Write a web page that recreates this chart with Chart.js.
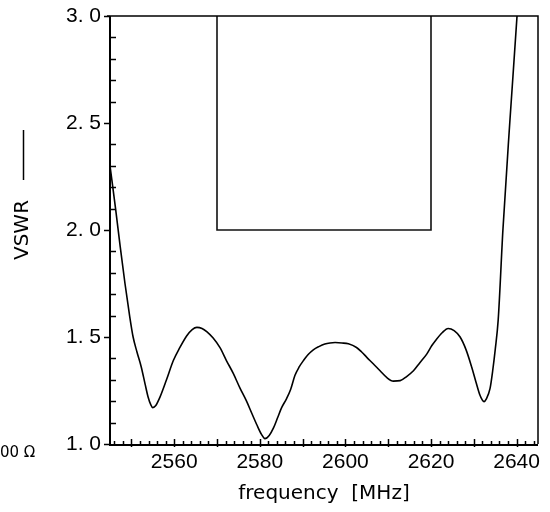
<!DOCTYPE html>
<html>
<head>
<meta charset="utf-8">
<script src="https://cdn.jsdelivr.net/npm/chart.js@4"></script>
<style>
    body { margin: 0; background: #fff; }
    #wrap { width: 550px; height: 512px; }
</style>
</head>
<body>
<div id="wrap"><canvas id="vswrChart"></canvas></div>
<script>
const freq = [
    2545.0, 2546.3, 2547.4, 2548.5, 2549.5, 2550.4, 2551.3, 2552.3, 2553.2, 2553.9,
    2554.5, 2555.0, 2555.7, 2556.7, 2558.2, 2559.8, 2561.3, 2562.9, 2564.2, 2565.3,
    2566.5, 2567.6, 2569.1, 2570.7, 2572.2, 2573.8, 2575.4, 2576.9, 2578.2, 2579.3,
    2580.4, 2581.2, 2582.2, 2583.2, 2584.2, 2585.1, 2586.2, 2587.2, 2588.2, 2589.2,
    2590.2, 2591.3, 2592.5, 2593.8, 2595.2, 2596.4, 2597.6, 2599.2, 2600.7, 2602.6,
    2603.8, 2605.0, 2606.5, 2608.1, 2609.7, 2611.2, 2612.8, 2614.3, 2615.9, 2617.4,
    2619.0, 2620.2, 2621.3, 2622.6, 2624.0, 2625.4, 2626.8, 2628.2, 2629.5, 2630.5,
    2631.4, 2632.0, 2632.4, 2632.9, 2633.8, 2634.4, 2635.0, 2635.7, 2636.8, 2638.4,
    2640.1, 2641.0
];
const vswr = [
    2.30, 2.10, 1.92, 1.75, 1.61, 1.50, 1.43, 1.36, 1.28, 1.22,
    1.185, 1.17, 1.18, 1.22, 1.30, 1.39, 1.45, 1.505, 1.535, 1.545,
    1.54, 1.525, 1.495, 1.45, 1.39, 1.33, 1.26, 1.20, 1.14, 1.09,
    1.045, 1.025, 1.04, 1.075, 1.125, 1.17, 1.21, 1.255, 1.32, 1.36,
    1.39, 1.418, 1.44, 1.455, 1.467, 1.472, 1.474, 1.472, 1.468, 1.451,
    1.43, 1.405, 1.375, 1.342, 1.31, 1.294, 1.296, 1.315, 1.342, 1.38,
    1.42, 1.46, 1.49, 1.52, 1.54, 1.53, 1.50, 1.44, 1.36, 1.29,
    1.23, 1.205, 1.198, 1.21, 1.26, 1.34, 1.44, 1.58, 2.0, 2.5,
    3.0, 3.3
];

// specification mask
const maskFreq = [2570, 2570, 2620, 2620];
const maskVswr = [3.0, 2.0, 2.0, 3.0];

const xRange = [2545, 2645];
const yRange = [1.0, 3.0];
const xTickValues = [2560, 2580, 2600, 2620, 2640];
const yTickValues = [1.0, 1.5, 2.0, 2.5, 3.0];
const yTickLabels = ['1. 0', '1. 5', '2. 0', '2. 5', '3. 0'];

const frame = {
    id: 'frame',
    afterDraw(chart) {
        const { ctx, chartArea: a, scales: { x, y } } = chart;
        ctx.save();
        ctx.strokeStyle = '#000';

        // box
        ctx.lineWidth = 1.5;
        ctx.beginPath();
        ctx.moveTo(a.left - 3, a.top);
        ctx.lineTo(a.right, a.top);
        ctx.lineTo(a.right, a.bottom);
        ctx.stroke();
        ctx.lineWidth = 2;
        ctx.beginPath();
        ctx.moveTo(a.left, a.top);
        ctx.lineTo(a.left, a.bottom + 1);
        ctx.lineTo(a.right, a.bottom + 1);
        ctx.stroke();

        // y ticks
        ctx.lineWidth = 1.5;
        for (let i = 0; i <= 20; i++) {
            const v = yRange[0] + i * 0.1;
            const py = Math.round(y.getPixelForValue(v)) + 0.5;
            ctx.beginPath();
            if (i % 5 === 0) {
                ctx.moveTo(a.left - 6, py);
                ctx.lineTo(a.left, py);
            } else {
                ctx.moveTo(a.left, py);
                ctx.lineTo(a.left + 6, py);
            }
            ctx.stroke();
        }

        // x ticks
        for (let f = 2546; f <= 2644; f += 2) {
            const px = Math.round(x.getPixelForValue(f)) + 0.5;
            ctx.beginPath();
            if (f % 10 === 0) {
                ctx.moveTo(px, a.bottom - 5);
                ctx.lineTo(px, a.bottom + 3);
            } else {
                ctx.moveTo(px, a.bottom - 3);
                ctx.lineTo(px, a.bottom + 1);
            }
            ctx.stroke();
        }

        // tick labels
        ctx.fillStyle = '#000';
        ctx.font = '21px "Liberation Sans"';
        ctx.textBaseline = 'middle';
        ctx.textAlign = 'right';
        yTickValues.forEach((v, i) => {
            ctx.fillText(yTickLabels[i], a.left - 9, y.getPixelForValue(v));
        });
        ctx.textAlign = 'center';
        xTickValues.forEach(f => {
            ctx.fillText(String(f), x.getPixelForValue(f), a.bottom + 18);
        });

        // axis titles
        ctx.font = '20px "DejaVu Sans"';
        ctx.fillText('frequency  [MHz]', (a.left + a.right) / 2, a.bottom + 50);

        ctx.save();
        ctx.translate(23, 0);
        ctx.rotate(-Math.PI / 2);
        ctx.textAlign = 'center';
        ctx.fillText('VSWR', -230, 0);
        ctx.restore();
        ctx.lineWidth = 1.5;
        ctx.beginPath();
        ctx.moveTo(23.5, 130);
        ctx.lineTo(23.5, 180);
        ctx.stroke();

        ctx.font = '15px "DejaVu Sans"';
        ctx.textAlign = 'left';
        ctx.fillText('00 Ω', 0, 453);
        ctx.restore();
    }
};

const toPoints = (xs, ys) => xs.map((f, i) => ({ x: f, y: ys[i] }));

new Chart(document.getElementById('vswrChart').getContext('2d'), {
    type: 'scatter',
    data: {
        datasets: [{
            label: 'VSWR',
            data: toPoints(freq, vswr),
            showLine: true,
            borderColor: '#000',
            borderWidth: 1.6,
            pointRadius: 0,
            cubicInterpolationMode: 'monotone'
        }, {
            label: 'mask',
            data: toPoints(maskFreq, maskVswr),
            showLine: true,
            borderColor: '#111',
            borderWidth: 1.6,
            pointRadius: 0,
            tension: 0
        }]
    },
    options: {
        responsive: true,
        maintainAspectRatio: false,
        animation: false,
        layout: {
            padding: { left: 110, right: 12, top: 16, bottom: 68 }
        },
        plugins: {
            legend: { display: false },
            tooltip: { enabled: false }
        },
        scales: {
            x: { type: 'linear', display: false, min: xRange[0], max: xRange[1] },
            y: { type: 'linear', display: false, min: yRange[0], max: yRange[1] }
        }
    },
    plugins: [frame]
});
</script>
</body>
</html>
